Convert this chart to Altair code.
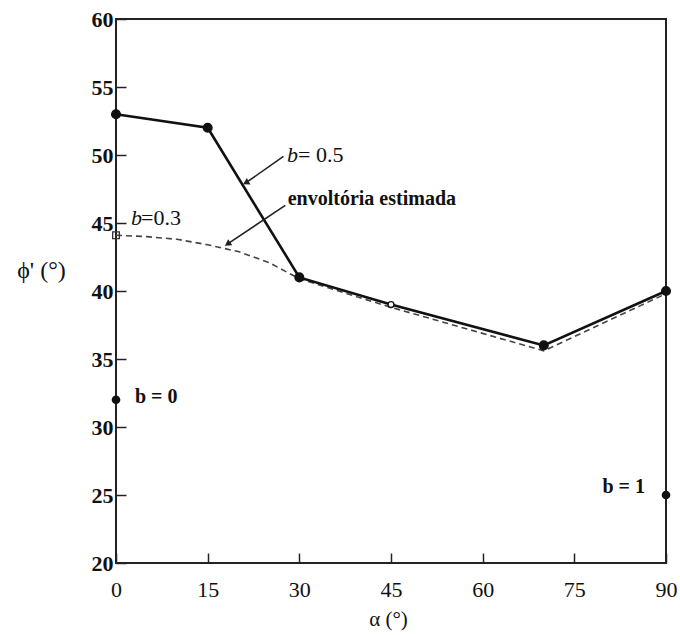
import altair as alt
import pandas as pd

FONT = "Liberation Serif"

# b = 0.5 curve (solid)
b05_alpha = [0, 15, 30, 45, 70, 90]
b05_phi = [53, 52, 41, 39, 36, 40]
b05_open = [False, False, False, True, False, False]

# estimated envelope (dashed)
env_alpha = [0, 5, 10, 15, 20, 25, 30, 45, 70, 90]
env_phi = [44.1, 44.0, 43.8, 43.4, 42.9, 42.1, 40.9, 38.8, 35.6, 39.8]

# isolated points
b03_alpha, b03_phi = [0], [44.1]
single_alpha = [0, 90]
single_phi = [32, 25]

# annotation texts
bold_text = ["b = 0", "b = 1", "envoltória estimada"]
bold_x = [3.1, 79.6, 28.1]
bold_y = [32.2, 25.6, 46.8]
ital_text = ["b", "b"]
ital_x = [28.0, 2.45]
ital_y = [50.0, 45.4]
reg_text = ["= 0.5", "=0.3"]
reg_x = [29.8, 4.1]
reg_y = [50.0, 45.4]

# arrows (start -> head)
arr_x = [27.4, 27.7]
arr_y = [49.9, 46.3]
arr_x2 = [21.4, 18.4]
arr_y2 = [48.0, 43.5]
arr_angle = [241, 236]

x_ticks = [0, 15, 30, 45, 60, 75, 90]
y_ticks = [20, 25, 30, 35, 40, 45, 50, 55, 60]

xs = alt.Scale(domain=[0, 90], nice=False, zero=False)
ys = alt.Scale(domain=[20, 60], nice=False, zero=False)

x_axis = alt.Axis(values=x_ticks, offset=-10, tickSize=10, tickWidth=1.5, tickColor="#222",
                  domain=False, grid=False, labelFont=FONT, labelFontSize=22,
                  labelColor="#111", labelPadding=16, title="α (°)", titleFont=FONT,
                  titleFontSize=21, titleFontWeight="normal", titleColor="#111",
                  titleY=66, titleX=272, titleBaseline="middle", titleAnchor="start",
                  titleAlign="center", labelFlush=False)
y_axis = alt.Axis(values=y_ticks, offset=-10, tickSize=10, tickWidth=1.5, tickColor="#222",
                  domain=False, grid=False, labelFont=FONT, labelFontSize=22,
                  labelFontWeight="bold", labelColor="#111", labelPadding=3,
                  title="ϕ' (°)", titleFont=FONT, titleFontSize=24,
                  titleFontWeight="normal", titleColor="#111", titleAngle=0,
                  titleX=-85, titleY=251, titleAlign="center", titleBaseline="middle",
                  titleAnchor="start", labelFlush=False)

b05 = pd.DataFrame({"a": b05_alpha, "phi": b05_phi, "open": b05_open})
env = pd.DataFrame({"a": env_alpha, "phi": env_phi})

base_line = alt.Chart(b05).mark_line(color="#111", strokeWidth=2.6).encode(
    x=alt.X("a:Q", scale=xs, axis=x_axis),
    y=alt.Y("phi:Q", scale=ys, axis=y_axis),
)

env_line = alt.Chart(env).mark_line(color="#444", strokeWidth=1.6, strokeDash=[6, 4]).encode(
    x=alt.X("a:Q", scale=xs), y=alt.Y("phi:Q", scale=ys)
)

b05_pts = alt.Chart(b05).mark_point(filled=True, strokeWidth=1.4, opacity=1).encode(
    x=alt.X("a:Q", scale=xs), y=alt.Y("phi:Q", scale=ys),
    fill=alt.condition(alt.datum.open, alt.value("white"), alt.value("#111")),
    size=alt.condition(alt.datum.open, alt.value(35), alt.value(75)),
    stroke=alt.value("#111"),
)

b03_pt = alt.Chart(pd.DataFrame({"a": b03_alpha, "phi": b03_phi})).mark_point(
    shape="square", size=45, filled=False, color="#333", strokeWidth=1.3, opacity=1
).encode(x=alt.X("a:Q", scale=xs), y=alt.Y("phi:Q", scale=ys))

single_pts = alt.Chart(pd.DataFrame({"a": single_alpha, "phi": single_phi})).mark_point(
    filled=True, size=75, color="#111", opacity=1
).encode(x=alt.X("a:Q", scale=xs), y=alt.Y("phi:Q", scale=ys))

arr = pd.DataFrame({"x": arr_x, "y": arr_y, "x2": arr_x2, "y2": arr_y2, "ang": arr_angle})
arrow_lines = alt.Chart(arr).mark_rule(color="#222", strokeWidth=1.6).encode(
    x=alt.X("x:Q", scale=xs), y=alt.Y("y:Q", scale=ys), x2="x2:Q", y2="y2:Q"
)
arrow_heads = alt.Chart(arr).mark_point(shape="triangle", filled=True, size=55,
                                        color="#222", opacity=1).encode(
    x=alt.X("x2:Q", scale=xs), y=alt.Y("y2:Q", scale=ys),
    angle=alt.Angle("ang:Q", scale=None),
)

def text_layer(texts, xv, yv, size=20, **kw):
    df = pd.DataFrame({"t": texts, "x": xv, "y": yv})
    return alt.Chart(df).mark_text(font=FONT, fontSize=size, align="left", baseline="middle",
                                   color="#111", **kw).encode(
        x=alt.X("x:Q", scale=xs), y=alt.Y("y:Q", scale=ys), text="t:N"
    )

bold_lbl = text_layer(bold_text, bold_x, bold_y, size=20, fontWeight="bold")
ital_lbl = text_layer(ital_text, ital_x, ital_y, size=22, fontStyle="italic")
reg_lbl = text_layer(reg_text, reg_x, reg_y, size=22)

chart = alt.layer(
    env_line, base_line, arrow_lines, arrow_heads, b05_pts, b03_pt, single_pts,
    bold_lbl, ital_lbl, reg_lbl
).properties(
    width=550, height=544,
    autosize=alt.AutoSizeParams(type="none"),
    padding={"left": 116, "top": 19, "right": 14, "bottom": 72},
    background="white",
).configure_view(stroke="#222", strokeWidth=2)

chart.save("out.html", embed_options={"renderer": "svg", "actions": False})
